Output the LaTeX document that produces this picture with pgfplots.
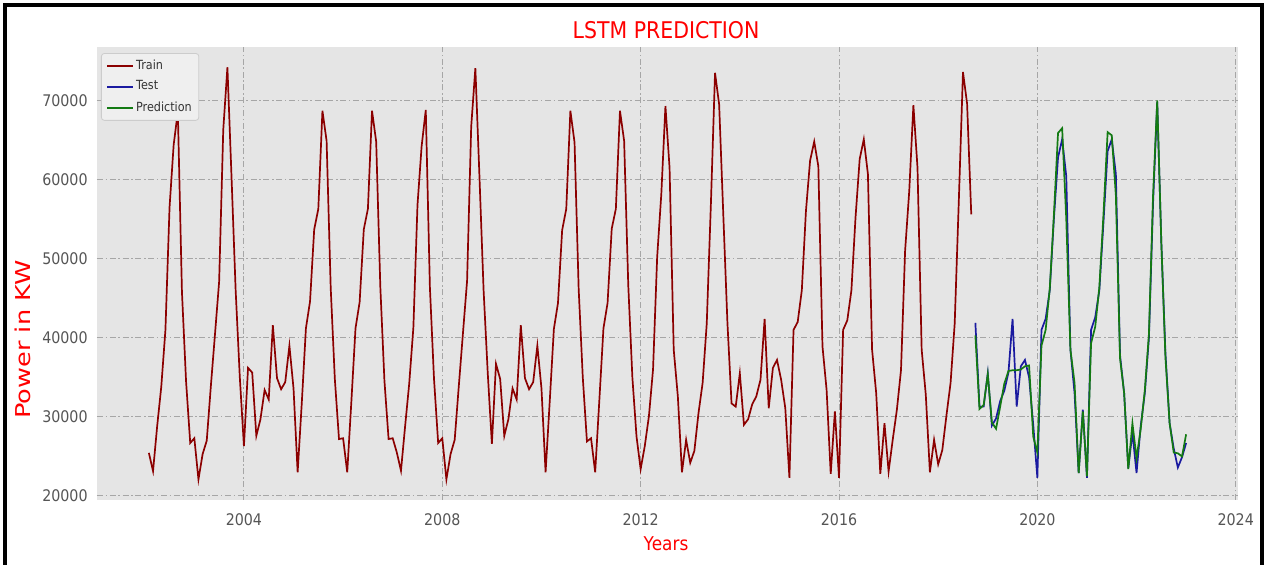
\documentclass[border=0pt]{standalone}
\usepackage{fontspec}
\setmainfont{DejaVu Sans}[FakeStretch=0.89]
\newfontfamily\ylabfont{DejaVu Sans}
\usepackage{pgfplots}
\usepackage{pgfplotstable}
\pgfplotsset{compat=1.18}
\definecolor{axbg}{HTML}{E5E5E5}
\definecolor{gridc}{HTML}{A6A6A6}
\definecolor{trainc}{HTML}{8B0000}
\definecolor{testc}{HTML}{1A1AA0}
\definecolor{predc}{HTML}{137A13}
\definecolor{tickc}{HTML}{555555}

\pgfplotstableread{
t v
2002.083 25450
2002.167 23150
2002.250 28800
2002.333 33800
2002.417 41000
2002.500 56500
2002.583 64400
2002.667 68600
2002.750 45800
2002.833 34500
2002.917 26700
2003.000 27300
2003.083 22100
2003.167 25300
2003.250 27000
2003.333 33900
2003.417 40500
2003.500 47100
2003.583 66300
2003.667 74200
2003.750 60300
2003.833 46000
2003.917 35000
2004.000 26300
2004.083 36200
2004.167 35600
2004.250 27600
2004.333 29700
2004.417 33400
2004.500 32200
2004.583 41600
2004.667 34900
2004.750 33500
2004.833 34400
2004.917 39000
2005.000 33600
2005.083 23000
2005.167 31800
2005.250 41200
2005.333 44600
2005.417 53700
2005.500 56300
2005.583 68700
2005.667 64900
2005.750 46300
2005.833 34800
2005.917 27200
2006.000 27300
2006.083 23000
2006.167 32000
2006.250 41200
2006.333 44500
2006.417 53700
2006.500 56300
2006.583 68700
2006.667 64800
2006.750 46500
2006.833 34600
2006.917 27200
2007.000 27300
2007.083 25500
2007.167 23200
2007.250 28800
2007.333 34200
2007.417 41300
2007.500 56800
2007.583 64200
2007.667 68800
2007.750 46400
2007.833 34800
2007.917 26700
2008.000 27300
2008.083 22100
2008.167 25300
2008.250 27100
2008.333 33900
2008.417 40600
2008.500 47200
2008.583 66700
2008.667 74100
2008.750 60300
2008.833 46000
2008.917 35500
2009.000 26600
2009.083 36700
2009.167 34800
2009.250 27600
2009.333 29700
2009.417 33600
2009.500 32200
2009.583 41600
2009.667 34900
2009.750 33500
2009.833 34400
2009.917 39000
2010.000 33600
2010.083 23000
2010.167 32000
2010.250 41100
2010.333 44400
2010.417 53600
2010.500 56300
2010.583 68700
2010.667 64700
2010.750 46200
2010.833 35000
2010.917 26900
2011.000 27300
2011.083 23000
2011.167 32100
2011.250 41200
2011.333 44400
2011.417 53800
2011.500 56300
2011.583 68700
2011.667 64900
2011.750 46700
2011.833 35000
2011.917 27500
2012.000 23400
2012.083 26300
2012.167 30100
2012.250 36000
2012.333 50200
2012.417 58200
2012.500 69300
2012.583 61500
2012.667 38500
2012.750 32600
2012.833 23000
2012.917 27100
2013.000 24200
2013.083 25700
2013.167 30500
2013.250 34300
2013.333 41800
2013.417 57000
2013.500 73500
2013.583 69500
2013.667 55500
2013.750 41900
2013.833 31700
2013.917 31300
2014.000 35500
2014.083 29000
2014.167 29700
2014.250 31600
2014.333 32600
2014.417 34700
2014.500 42400
2014.583 31100
2014.667 36200
2014.750 37200
2014.833 34700
2014.917 31100
2015.000 22300
2015.083 41000
2015.167 42000
2015.250 46000
2015.333 56000
2015.417 62400
2015.500 64800
2015.583 61700
2015.667 38900
2015.750 33400
2015.833 22800
2015.917 30700
2016.000 22300
2016.083 41000
2016.167 42200
2016.250 46000
2016.333 55200
2016.417 62600
2016.500 65100
2016.583 60700
2016.667 38500
2016.750 33000
2016.833 22800
2016.917 29200
2017.000 23100
2017.083 27100
2017.167 30900
2017.250 35900
2017.333 51000
2017.417 58600
2017.500 69400
2017.583 61500
2017.667 38500
2017.750 32800
2017.833 23000
2017.917 27100
2018.000 24000
2018.083 25800
2018.167 30200
2018.250 34300
2018.333 41800
2018.417 57500
2018.500 73600
2018.583 69600
2018.667 55600
}\train

\pgfplotstableread{
t v
2018.750 41900
2018.833 31300
2018.917 31300
2019.000 35500
2019.083 28900
2019.167 29800
2019.250 32000
2019.333 33300
2019.417 35600
2019.500 42400
2019.583 31300
2019.667 36400
2019.750 37200
2019.833 35000
2019.917 29000
2020.000 22300
2020.083 41000
2020.167 42400
2020.250 46000
2020.333 55000
2020.417 62800
2020.500 65100
2020.583 60400
2020.667 38500
2020.750 33000
2020.833 22900
2020.917 30900
2021.000 22300
2021.083 41000
2021.167 42600
2021.250 46000
2021.333 54600
2021.417 63600
2021.500 65100
2021.583 60700
2021.667 37800
2021.750 33000
2021.833 23500
2021.917 28000
2022.000 22900
2022.083 28800
2022.167 33000
2022.250 40000
2022.333 57000
2022.417 69800
2022.500 52000
2022.583 38000
2022.667 29200
2022.750 26000
2022.833 23600
2022.917 24900
2023.000 26700
}\test

\pgfplotstableread{
t v
2018.750 40300
2018.833 31000
2018.917 31500
2019.000 35400
2019.083 29300
2019.167 28500
2019.250 31300
2019.333 34200
2019.417 35800
2019.500 35900
2019.583 35900
2019.667 36000
2019.750 36400
2019.833 36500
2019.917 27500
2020.000 25500
2020.083 39000
2020.167 41000
2020.250 46200
2020.333 55500
2020.417 65900
2020.500 66500
2020.583 55000
2020.667 38500
2020.750 34300
2020.833 22900
2020.917 30700
2021.000 22500
2021.083 39300
2021.167 41400
2021.250 46400
2021.333 55600
2021.417 66000
2021.500 65600
2021.583 58000
2021.667 37400
2021.750 33000
2021.833 23400
2021.917 29200
2022.000 24800
2022.083 28400
2022.167 33400
2022.250 40500
2022.333 58000
2022.417 70000
2022.500 52000
2022.583 37500
2022.667 29200
2022.750 25500
2022.833 25400
2022.917 25000
2023.000 27800
}\pred

\begin{document}
\begin{tikzpicture}[x=1pt,y=1pt]
\path[use as bounding box] (0,0) rectangle (632.5,282.5);
\fill[white] (0,0) rectangle (632.5,282.5);
\draw[line width=2pt] (2.5,0) -- (2.5,279.75) -- (630.75,279.75) -- (630.75,0);
\begin{axis}[
  at={(48.5pt,32.5pt)}, anchor=south west, scale only axis,
  width=570.5pt, height=226.65pt,
  xmin=2001.037, xmax=2024.046, ymin=19495, ymax=76805,
  axis background/.style={fill=axbg},
  axis line style={draw=none},
  xtick={2004,2008,...,2024}, ytick={20000,30000,...,70000},
  scaled y ticks=false, scaled x ticks=false,
  grid=major,
  major grid style={gridc, line width=0.5pt, dash pattern=on 3pt off 1.3pt on 0.8pt off 1.3pt},
  major tick length=0pt,
  /pgf/number format/1000 sep={},
  /pgf/number format/assume math mode=true,
  ticklabel style={font=\fontsize{8}{9.5}\selectfont, text=tickc},
  xticklabel style={inner sep=0pt, anchor=north, yshift=-6.5pt},
  yticklabel style={inner sep=0pt, anchor=east, xshift=-4.5pt},
  every axis title shift=0pt,
  title={LSTM PREDICTION},
  title style={at={(axis description cs:0.4987,1.037)}, anchor=center, yshift=0pt, font=\fontsize{11.5}{13}\selectfont, text=red, inner sep=0pt},
  xlabel={Years},
  xlabel style={at={(axis description cs:0.4987,-0.097)}, anchor=center, font=\fontsize{9.5}{11}\selectfont, text=red, inner sep=0pt},
  ylabel={\scalebox{1}[0.8]{Power in KW}},
  ylabel style={at={(axis description cs:-0.0649,0.354)}, anchor=center, font=\ylabfont\fontsize{12.8}{15}\selectfont, text=red, inner sep=0pt},
  legend style={at={(axis description cs:0.0035,0.986)}, anchor=north west,
    draw=black!20, fill=axbg!60!white, rounded corners=1.5pt,
    font=\fontsize{6.3}{7}\selectfont, text=black!80,
    row sep=2.4pt, inner xsep=2.5pt, inner ysep=2pt,
    nodes={inner sep=1pt}},
  legend cell align=left,
  legend image code/.code={\draw[#1] (0pt,0pt) -- (13pt,0pt);},
]
\addplot[trainc, line width=0.85pt] table[x=t,y=v]{\train};
\addlegendentry{Train}
\addplot[testc, line width=0.85pt] table[x=t,y=v]{\test};
\addlegendentry{Test}
\addplot[predc, line width=0.85pt] table[x=t,y=v]{\pred};
\addlegendentry{Prediction}
\end{axis}
\end{tikzpicture}
\end{document}
